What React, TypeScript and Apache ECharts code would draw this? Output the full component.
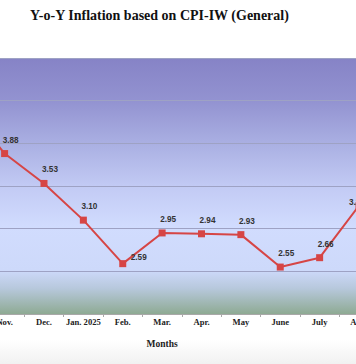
import React, { useEffect, useRef } from "react";
import * as echarts from "echarts";

const titleText = "Y-o-Y Inflation based on CPI-IW (General)";
const months = ["Oct.", "Nov.", "Dec.", "Jan. 2025", "Feb.", "Mar.", "Apr.", "May", "June", "July", "Aug."];
const inflation = [4.45, 3.88, 3.53, 3.10, 2.59, 2.95, 2.94, 2.93, 2.55, 2.66, 3.27];
const yMin = 2;
const yMax = 5;
const yStep = 0.5;
const xAxisName = "Months";

export default function App() {
  const ref = useRef<HTMLDivElement>(null);
  useEffect(() => {
    if (!ref.current) return;
    const chart = echarts.init(ref.current, null, { renderer: "svg" });
    const data = inflation.map((v, i) => {
      if (months[i] === "Feb.") {
        return { value: v, label: { offset: [16, 5] } };
      }
      if (months[i] === "Aug.") {
        return { value: v, label: { offset: [-2, 8] } };
      }
      return { value: v };
    });
    chart.setOption({
      animation: false,
      backgroundColor: "#ffffff",
      title: {
        text: titleText,
        left: 25,
        top: 3.5,
        textStyle: {
          fontFamily: "Liberation Serif",
          fontWeight: "bold",
          fontSize: 14,
          color: "#111111",
        },
      },
      graphic: [
        {
          type: "rect",
          left: 0,
          top: 340,
          shape: { width: 356, height: 24 },
          z: -10,
          style: {
            fill: new echarts.graphic.LinearGradient(0, 0, 0, 1, [
              { offset: 0, color: "#ffffff" },
              { offset: 1, color: "#f1f1f1" },
            ]),
          },
        },
      ],
      grid: {
        left: -54.45,
        right: -22.7,
        top: 58,
        bottom: 50,
        show: true,
        borderWidth: 0,
        outerBoundsMode: "none",
        containLabel: false,
        backgroundColor: new echarts.graphic.LinearGradient(0, 0, 0, 1, [
          { offset: 0, color: "#8683c6" },
          { offset: 0.17, color: "#9393d1" },
          { offset: 0.35, color: "#acb2e4" },
          { offset: 0.5, color: "#c2caf4" },
          { offset: 0.66, color: "#d1dcfe" },
          { offset: 0.83, color: "#cdd9fa" },
          { offset: 0.9, color: "#b7c8dc" },
          { offset: 1, color: "#8eaa93" },
        ]),
      },
      xAxis: {
        type: "category",
        data: months,
        boundaryGap: true,
        name: xAxisName,
        nameLocation: "middle",
        nameGap: 25,
        nameTextStyle: {
          fontFamily: "Liberation Serif",
          fontWeight: "bold",
          fontSize: 9.5,
          color: "#222222",
        },
        axisLine: { lineStyle: { color: "#a8a8a8", width: 1 } },
        axisTick: { show: true, length: 3, lineStyle: { color: "#a8a8a8" } },
        axisLabel: {
          fontFamily: "Liberation Serif",
          fontWeight: "bold",
          fontSize: 8.6,
          color: "#222222",
          margin: 3.5,
          interval: 0,
        },
      },
      yAxis: {
        type: "value",
        min: yMin,
        max: yMax,
        interval: yStep,
        axisLabel: { show: false },
        axisLine: { show: false },
        axisTick: { show: false },
        splitLine: { lineStyle: { color: "#9ea2c4", width: 1 } },
      },
      series: [
        {
          type: "line",
          data,
          symbol: "rect",
          symbolSize: 7,
          clip: false,
          lineStyle: { color: "#d64545", width: 2 },
          itemStyle: { color: "#d64545" },
          label: {
            show: true,
            position: "top",
            distance: 4,
            offset: [6, -2],
            formatter: (p: any) => Number(p.value).toFixed(2),
            fontFamily: "Liberation Sans",
            fontWeight: "bold",
            fontSize: 8.2,
            color: "#333333",
          },
        },
      ],
    });
    return () => chart.dispose();
  }, []);
  return (
    <div
      ref={ref}
      style={{ position: "fixed", left: 0, top: 0, width: 356, height: 364 }}
    />
  );
}
